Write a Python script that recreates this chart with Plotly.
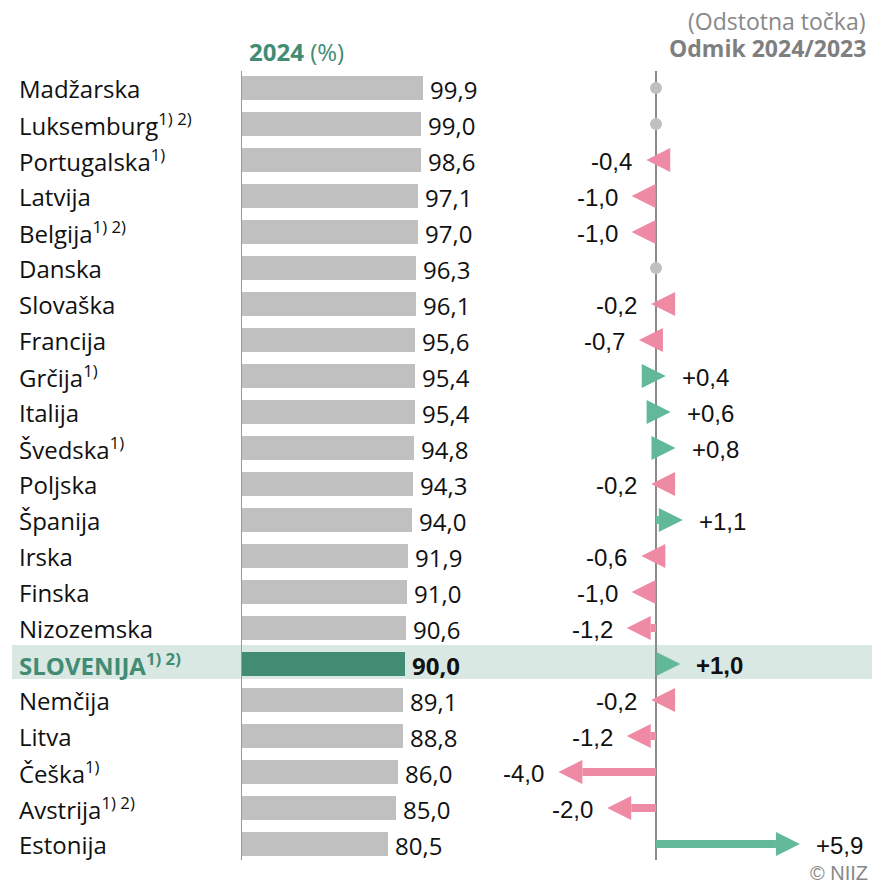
import plotly.graph_objects as go

countries = ["Madžarska", "Luksemburg", "Portugalska", "Latvija", "Belgija", "Danska",
             "Slovaška", "Francija", "Grčija", "Italija", "Švedska", "Poljska", "Španija",
             "Irska", "Finska", "Nizozemska", "SLOVENIJA", "Nemčija", "Litva", "Češka",
             "Avstrija", "Estonija"]
notes = ["", "1) 2)", "1)", "", "1) 2)", "", "", "", "1)", "", "1)", "", "", "", "", "",
         "1) 2)", "", "", "1)", "1) 2)", ""]
values_2024 = [99.9, 99.0, 98.6, 97.1, 97.0, 96.3, 96.1, 95.6, 95.4, 95.4, 94.8, 94.3,
               94.0, 91.9, 91.0, 90.6, 90.0, 89.1, 88.8, 86.0, 85.0, 80.5]
change = [0.0, 0.0, -0.4, -1.0, -1.0, 0.0, -0.2, -0.7, 0.4, 0.6, 0.8, -0.2, 1.1, -0.6,
          -1.0, -1.2, 1.0, -0.2, -1.2, -4.0, -2.0, 5.9]
highlight = "SLOVENIJA"

W, H = 872, 883
GREY_BAR = "#c0c0c0"
GREEN_DARK = "#428c74"
GREEN = "#62b99a"
PINK = "#ef8aa5"
BAND = "#d9e8e3"
GREY_TXT = "#888888"

# layout geometry (pixels)
ROW0, ROWH = 88, 36
L0, L1, LSCALE = 241, 470, 1.822
R0, R1, RZERO, RSCALE = 500, 872, 656, 24.4
HEAD_PX, HALF_PX, SHAFT_PX = 24, 12, 8

def fmt(v):
    return f"{v:.1f}".replace(".", ",")

n = len(countries)
idx = list(range(n))
hi = countries.index(highlight)

fig = go.Figure()

# bars
bar_colors = [GREEN_DARK if c == highlight else GREY_BAR for c in countries]
fig.add_trace(go.Bar(x=values_2024, y=idx, orientation="h", width=0.64,
                     marker=dict(color=bar_colors, line=dict(width=0)),
                     xaxis="x", yaxis="y", hoverinfo="skip", showlegend=False))

# arrows
head_u = HEAD_PX / RSCALE
half_r = HALF_PX / ROWH
zx, zy = [], []
for i, v in enumerate(change):
    if v == 0:
        zx.append(0); zy.append(i)
        continue
    col = GREEN if v > 0 else PINK
    s = 1 if v > 0 else -1
    base = v - s * head_u
    if abs(v) > head_u:
        fig.add_trace(go.Scatter(x=[0, base], y=[i, i], mode="lines",
                                 line=dict(color=col, width=SHAFT_PX),
                                 xaxis="x2", yaxis="y", hoverinfo="skip", showlegend=False))
    fig.add_trace(go.Scatter(x=[base, v, base, base], y=[i - half_r, i, i + half_r, i - half_r],
                             mode="lines", fill="toself", fillcolor=col,
                             line=dict(color=col, width=0),
                             xaxis="x2", yaxis="y", hoverinfo="skip", showlegend=False))
fig.add_trace(go.Scatter(x=zx, y=zy, mode="markers",
                         marker=dict(color=GREY_BAR, size=12),
                         xaxis="x2", yaxis="y", hoverinfo="skip", showlegend=False))

FS = 24
ann = []
for i, (c, nt, v, d) in enumerate(zip(countries, notes, values_2024, change)):
    is_hi = c == highlight
    sup = f"<sup>{nt}</sup>" if nt else ""
    if is_hi:
        txt = f"<b>{c}{sup}</b>"
        col = GREEN_DARK
    else:
        txt = f"{c}{sup}"
        col = "#111111"
    ann.append(dict(x=19 / W, y=i, xref="paper", yref="y", text=txt, showarrow=False,
                    xanchor="left", yanchor="middle", xshift=-2,
                    font=dict(family="Open Sans", size=FS, color=col)))
    vt = f"<b>{fmt(v)}</b>" if is_hi else fmt(v)
    ann.append(dict(x=v, y=i, xref="x", yref="y", text=vt, showarrow=False,
                    xanchor="left", yanchor="middle", xshift=5, yshift=-1,
                    font=dict(family="Open Sans", size=FS, color="#111111")))
    if d != 0:
        dt = ("+" if d > 0 else "") + fmt(d)
        if is_hi:
            dt = f"<b>{dt}</b>"
        ann.append(dict(x=d, y=i, xref="x2", yref="y", text=dt, showarrow=False,
                        xanchor="left" if d > 0 else "right", yanchor="middle",
                        xshift=14 if d > 0 else -12, yshift=-1,
                        font=dict(family="Liberation Sans", size=FS, color="#111111")))

ann.append(dict(x=249 / W, y=1 - 52 / H, xref="paper", yref="paper",
                text="<b>2024</b> (%)", showarrow=False, xanchor="left", yanchor="middle",
                xshift=-2, font=dict(family="Open Sans", size=FS, color=GREEN_DARK)))
ann.append(dict(x=868 / W, y=1 - 21 / H, xref="paper", yref="paper",
                text="(Odstotna točka)", showarrow=False, xanchor="right", yanchor="middle",
                font=dict(family="Open Sans", size=23, color=GREY_TXT)))
ann.append(dict(x=868 / W, y=1 - 48 / H, xref="paper", yref="paper",
                text="<b>Odmik 2024/2023</b>", showarrow=False, xanchor="right", yanchor="middle",
                font=dict(family="Open Sans", size=23, color="#7f7f7f")))
ann.append(dict(x=870 / W, y=1 - 873 / H, xref="paper", yref="paper",
                text="© NIIZ", showarrow=False, xanchor="right", yanchor="middle",
                font=dict(family="Liberation Sans", size=20, color=GREY_TXT)))

top_r = (71 - ROW0) / ROWH
bot_r = (860 - ROW0) / ROWH
shapes = [
    dict(type="rect", xref="paper", yref="y", x0=12 / W, x1=1, y0=hi - 0.53, y1=hi + 0.42,
         fillcolor=BAND, line=dict(width=0), layer="below"),
    dict(type="line", xref="x", yref="y", x0=0, x1=0, y0=top_r, y1=bot_r,
         line=dict(color="#999999", width=2)),
    dict(type="line", xref="x2", yref="y", x0=0, x1=0, y0=top_r, y1=bot_r,
         line=dict(color="#8a8a8a", width=2), layer="below"),
]

fig.update_layout(
    width=W, height=H, margin=dict(l=0, r=0, t=0, b=0),
    paper_bgcolor="white", plot_bgcolor="rgba(0,0,0,0)",
    xaxis=dict(domain=[L0 / W, L1 / W], range=[0, (L1 - L0) / LSCALE], visible=False, fixedrange=True),
    xaxis2=dict(domain=[R0 / W, R1 / W], range=[-(RZERO - R0) / RSCALE, (R1 - RZERO) / RSCALE],
                visible=False, fixedrange=True),
    yaxis=dict(domain=[0, 1], range=[(H - ROW0) / ROWH, -ROW0 / ROWH], visible=False, fixedrange=True),
    annotations=ann, shapes=shapes, showlegend=False, bargap=0,
)

fig.write_html("out.html", config={"displayModeBar": False},
               post_script="document.body.style.margin='0';document.body.style.overflow='hidden';")
